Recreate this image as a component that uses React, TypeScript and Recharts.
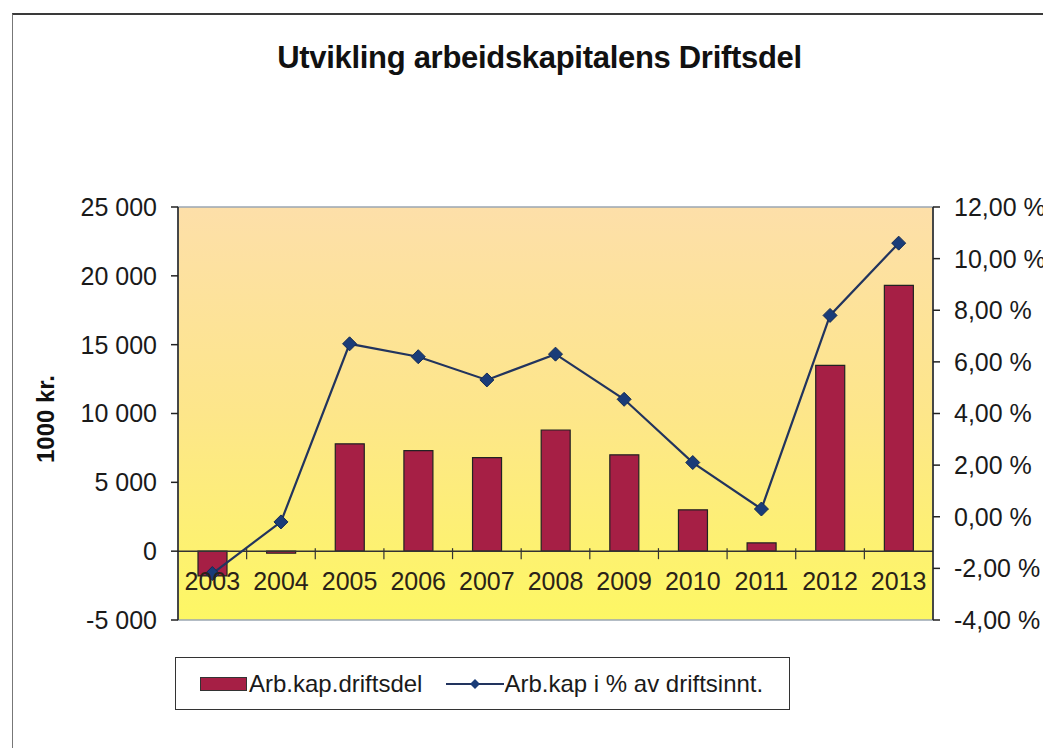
import React from "react";
import {
  ComposedChart, Bar, Line, XAxis, YAxis, ReferenceArea, ReferenceLine,
} from "recharts";

const years = ["2003", "2004", "2005", "2006", "2007", "2008", "2009", "2010", "2011", "2012", "2013"];
const arbKap = [-1800, -150, 7800, 7300, 6800, 8800, 7000, 3000, 600, 13500, 19300];
const arbKapPct = [-2.2, -0.2, 6.7, 6.2, 5.3, 6.3, 4.55, 2.1, 0.3, 7.8, 10.6];
const leftTicks = [-5000, 0, 5000, 10000, 15000, 20000, 25000];
const rightTicks = [-4, -2, 0, 2, 4, 6, 8, 10, 12];

const data = years.map((year, i) => ({ year, kap: arbKap[i], pct: arbKapPct[i] }));

const W = 1051;
const H = 756;
const MARGIN = { top: 207, right: 8, bottom: 106, left: 78 };
const LEFT_W = 100;
const RIGHT_W = 110;
const X_H = 30;
const PLOT_W = W - MARGIN.left - MARGIN.right - LEFT_W - RIGHT_W;
const PLOT_H = H - MARGIN.top - MARGIN.bottom - X_H;
const LEFT_MIN = leftTicks[0];
const LEFT_MAX = leftTicks[leftTicks.length - 1];
// distance from bottom of plot up to the zero line
const ZERO_UP = (PLOT_H * (0 - LEFT_MIN)) / (LEFT_MAX - LEFT_MIN);
const BAND = PLOT_W / years.length;

const font = "'Liberation Sans', Arial, sans-serif";
const barColor = "#a61f45";
const lineColor = "#22345e";

const fmtLeft = (v: number) => {
  const s = Math.abs(v).toString().replace(/\B(?=(\d{3})+(?!\d))/g, " ");
  return (v < 0 ? "-" : "") + s;
};
const fmtRight = (v: number) => v.toFixed(2).replace(".", ",") + " %";

const YearTick = (props: any) => {
  const { x, y, payload, index } = props;
  const zy = y - ZERO_UP;
  return (
    <g>
      {index > 0 && (
        <line x1={x - BAND / 2} x2={x - BAND / 2} y1={zy - 3} y2={zy + 8} stroke="#333" strokeWidth={1.2} />
      )}
      <text x={x} y={zy + 39} textAnchor="middle" fontSize={25} fontFamily={font} fill="#2a2218">
        {payload.value}
      </text>
    </g>
  );
};

const Diamond = (props: any) => {
  const { cx, cy } = props;
  if (cx == null || cy == null) return null;
  const r = 7;
  return (
    <polygon
      points={`${cx},${cy - r} ${cx + r},${cy} ${cx},${cy + r} ${cx - r},${cy}`}
      fill="#1a3c78"
      stroke="#142b55"
      strokeWidth={1}
    />
  );
};

const LegendBox = () => (
  <div
    style={{
      position: "absolute", left: 175, top: 657,
      width: 615,
      height: 53,
      border: "1.5px solid #333",
      boxSizing: "border-box",
      background: "#fff",
      display: "flex",
      alignItems: "center",
      fontFamily: font,
      fontSize: 24,
      color: "#1a1a1a",
      whiteSpace: "nowrap",
    }}
  >
    <span style={{ display: "inline-block", width: 45, height: 12, marginLeft: 24, background: barColor, border: "1px solid #333" }} />
    <span style={{ marginLeft: 2 }}>Arb.kap.driftsdel</span>
    <svg width={58} height={14} style={{ marginLeft: 24 }}>
      <line x1={0} y1={7} x2={58} y2={7} stroke={lineColor} strokeWidth={2} />
      <polygon points="29,2 34,7 29,12 24,7" fill="#1a3c78" />
    </svg>
    <span>Arb.kap i % av driftsinnt.</span>
  </div>
);

export default function App() {
  return (
    <div style={{ position: "relative", width: W, height: H, margin: -8, overflow: "hidden", background: "#fff" }}>
      <div
        style={{
          position: "absolute", left: 12, top: 13, width: 1100, height: 800,
          borderTop: "2px solid #3a3a3a", borderLeft: "1px solid #777",
        }}
      />
      <div
        style={{
          position: "absolute", left: 0, width: W, top: 40, paddingLeft: 28, boxSizing: "border-box", textAlign: "center",
          fontFamily: font, fontWeight: "bold", fontSize: 31, color: "#111", letterSpacing: -0.3,
        }}
      >
        Utvikling arbeidskapitalens Driftsdel
      </div>
      <div
        style={{
          position: "absolute", left: 46, top: 419, transform: "translate(-50%, -50%) rotate(-90deg)",
          fontFamily: font, fontWeight: "bold", fontSize: 24, color: "#111", whiteSpace: "nowrap",
        }}
      >
        1000 kr.
      </div>
      <div style={{ position: "absolute", left: 0, top: 0 }}>
        <ComposedChart width={W} height={H} data={data} margin={MARGIN}>
          <defs>
            <linearGradient id="plotBg" x1="0" y1="0" x2="0" y2="1">
              <stop offset="0%" stopColor="#fddfa9" />
              <stop offset="50%" stopColor="#fde68a" />
              <stop offset="100%" stopColor="#fdf764" />
            </linearGradient>
          </defs>
          <ReferenceArea
            yAxisId="left"
            y1={LEFT_MIN}
            y2={LEFT_MAX}
            fill="url(#plotBg)"
            fillOpacity={1}
            stroke="#9aa6b2"
            strokeWidth={1.5}
            ifOverflow="extendDomain"
          />
          <XAxis
            dataKey="year"
            height={X_H}
            axisLine={false}
            tickLine={false}
            tickSize={0}
            tickMargin={0}
            interval={0}
            tick={<YearTick />}
          />
          <YAxis
            yAxisId="left"
            width={LEFT_W}
            domain={[LEFT_MIN, LEFT_MAX]}
            ticks={leftTicks}
            tickFormatter={fmtLeft}
            axisLine={{ stroke: "#222", strokeWidth: 1.5 }}
            tickLine={{ stroke: "#222", strokeWidth: 1.5 }}
            tickSize={7}
            tickMargin={14}
            tick={{ fill: "#1a1a1a", fontSize: 25, fontFamily: font }}
          />
          <YAxis
            yAxisId="right"
            orientation="right"
            width={RIGHT_W}
            domain={[rightTicks[0], rightTicks[rightTicks.length - 1]]}
            ticks={rightTicks}
            tickFormatter={fmtRight}
            axisLine={{ stroke: "#222", strokeWidth: 1.5 }}
            tickLine={{ stroke: "#222", strokeWidth: 1.5 }}
            tickSize={7}
            tickMargin={14}
            tick={{ fill: "#1a1a1a", fontSize: 25, fontFamily: font }}
          />
          <ReferenceLine yAxisId="left" y={0} stroke="#333" strokeWidth={1.5} />
          <Bar
            yAxisId="left"
            dataKey="kap"
            fill={barColor}
            stroke="#222"
            strokeWidth={1.2}
            barSize={29}
            isAnimationActive={false}
          />
          <Line
            yAxisId="right"
            dataKey="pct"
            stroke={lineColor}
            strokeWidth={2.2}
            dot={<Diamond />}
            activeDot={false}
            isAnimationActive={false}
          />
        </ComposedChart>
      </div>
      <LegendBox />
    </div>
  );
}
